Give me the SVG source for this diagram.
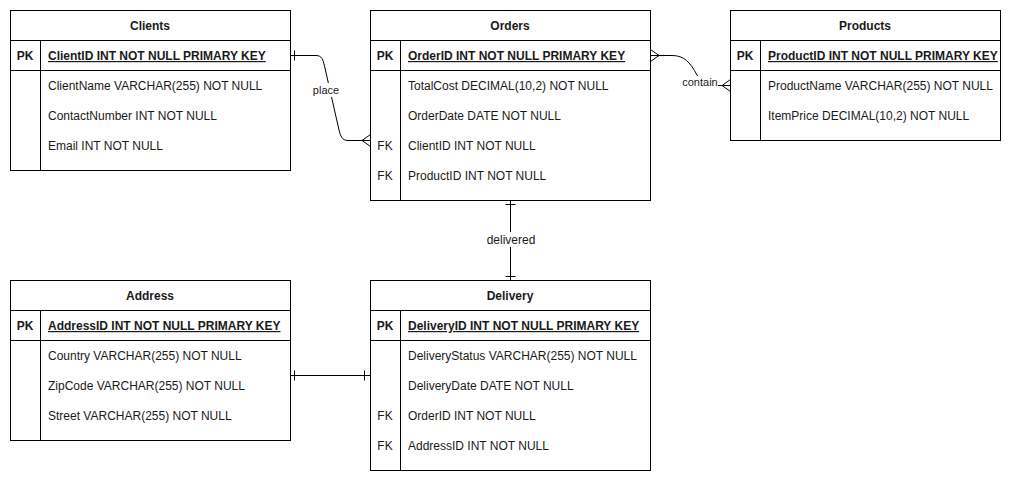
<svg xmlns="http://www.w3.org/2000/svg" width="1011" height="481" viewBox="0 0 1011 481">
<style>
.box{fill:#fff;stroke:#000;stroke-width:1}
.ln{stroke:#000;stroke-width:1;fill:none}
text{font-family:"Liberation Sans",Arial,sans-serif;font-size:12px;fill:#1a1a1a}
.t{font-weight:bold;text-anchor:middle}
.pk{font-weight:bold;text-decoration:underline}
.k{text-anchor:middle}
.lbl{font-size:11px;text-anchor:middle}
</style>
<rect width="1011" height="481" fill="#fff"/>
<g id="Clients">
<rect class="box" x="10.5" y="10.5" width="280" height="160"/>
<path class="ln" d="M10.5 40.5H290.5M10.5 70.5H290.5M40.5 40.5V170.5"/>
<text class="t" x="150" y="30">Clients</text>
<text class="k" x="25" y="60" font-weight="bold">PK</text>
<text class="pk" x="48" y="60">ClientID INT NOT NULL PRIMARY KEY</text>
<text x="48" y="90">ClientName VARCHAR(255) NOT NULL</text>
<text x="48" y="120">ContactNumber INT NOT NULL</text>
<text x="48" y="150">Email INT NOT NULL</text>
</g>
<g id="Orders">
<rect class="box" x="370.5" y="10.5" width="280" height="190"/>
<path class="ln" d="M370.5 40.5H650.5M370.5 70.5H650.5M400.5 40.5V200.5"/>
<text class="t" x="510" y="30">Orders</text>
<text class="k" x="385" y="60" font-weight="bold">PK</text>
<text class="pk" x="408" y="60">OrderID INT NOT NULL PRIMARY KEY</text>
<text x="408" y="90">TotalCost DECIMAL(10,2) NOT NULL</text>
<text x="408" y="120">OrderDate DATE NOT NULL</text>
<text class="k" x="385" y="150">FK</text>
<text x="408" y="150">ClientID INT NOT NULL</text>
<text class="k" x="385" y="180">FK</text>
<text x="408" y="180">ProductID INT NOT NULL</text>
</g>
<g id="Products">
<rect class="box" x="730.5" y="10.5" width="270" height="130"/>
<path class="ln" d="M730.5 40.5H1000.5M730.5 70.5H1000.5M760.5 40.5V140.5"/>
<text class="t" x="865" y="30">Products</text>
<text class="k" x="745" y="60" font-weight="bold">PK</text>
<text class="pk" x="768" y="60">ProductID INT NOT NULL PRIMARY KEY</text>
<text x="768" y="90">ProductName VARCHAR(255) NOT NULL</text>
<text x="768" y="120">ItemPrice DECIMAL(10,2) NOT NULL</text>
</g>
<g id="Address">
<rect class="box" x="10.5" y="280.5" width="280" height="160"/>
<path class="ln" d="M10.5 310.5H290.5M10.5 340.5H290.5M40.5 310.5V440.5"/>
<text class="t" x="150" y="300">Address</text>
<text class="k" x="25" y="330" font-weight="bold">PK</text>
<text class="pk" x="48" y="330">AddressID INT NOT NULL PRIMARY KEY</text>
<text x="48" y="360">Country VARCHAR(255) NOT NULL</text>
<text x="48" y="390">ZipCode VARCHAR(255) NOT NULL</text>
<text x="48" y="420">Street VARCHAR(255) NOT NULL</text>
</g>
<g id="Delivery">
<rect class="box" x="370.5" y="280.5" width="280" height="190"/>
<path class="ln" d="M370.5 310.5H650.5M370.5 340.5H650.5M400.5 310.5V470.5"/>
<text class="t" x="510" y="300">Delivery</text>
<text class="k" x="385" y="330" font-weight="bold">PK</text>
<text class="pk" x="408" y="330">DeliveryID INT NOT NULL PRIMARY KEY</text>
<text x="408" y="360">DeliveryStatus VARCHAR(255) NOT NULL</text>
<text x="408" y="390">DeliveryDate DATE NOT NULL</text>
<text class="k" x="385" y="420">FK</text>
<text x="408" y="420">OrderID INT NOT NULL</text>
<text class="k" x="385" y="450">FK</text>
<text x="408" y="450">AddressID INT NOT NULL</text>
</g>
<g id="connectors">
<!-- Clients -> Orders -->
<path class="ln" d="M290.5 55.5H316C322 55.5 323 60 324.5 66L339 130C340.5 136 342 140.5 348 140.5H370.5"/>
<path class="ln" d="M294.5 50.5V60.5M370.5 134.5L362 140.5L370.5 146.5"/>
<rect x="311" y="83" width="30" height="14" fill="#fff"/>
<text class="lbl" x="326" y="94">place</text>
<!-- Orders -> Products -->
<path class="ln" d="M650.5 55.5H672C684 55.5 690 62 697 75C701 82 705 85.5 712 85.5H730.5"/>
<path class="ln" d="M650.5 49.5L659 55.5L650.5 61.5M730.5 79.5L722 85.5L730.5 91.5"/>
<rect x="682" y="76" width="36" height="12" fill="#fff"/>
<text class="lbl" x="700" y="86">contain</text>
<!-- Orders -> Delivery -->
<path class="ln" d="M510.5 200.5V280.5M505.5 204.5H515.5M505.5 276.5H515.5"/>
<rect x="485" y="232" width="52" height="15" fill="#fff"/>
<text class="k" x="511" y="244">delivered</text>
<!-- Address -> Delivery -->
<path class="ln" d="M290.5 375.5H370.5M294.5 370.5V380.5M364.5 370.5V380.5"/>
</g>
</svg>
